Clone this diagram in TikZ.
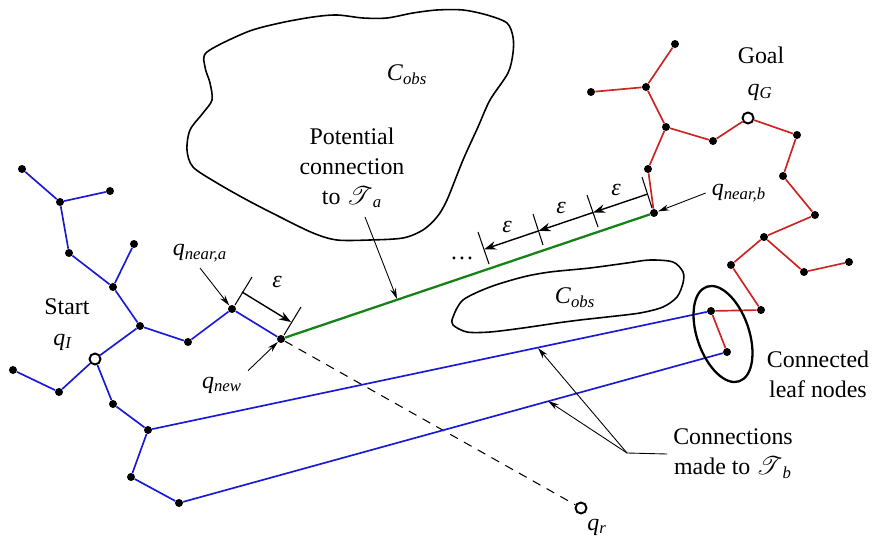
\documentclass[tikz,border=0pt]{standalone}
\usepackage{fontspec}
\setmainfont{Liberation Serif}
\usepackage{mathrsfs}
\usetikzlibrary{arrows.meta}

\definecolor{treeblue}{RGB}{25,25,215}
\definecolor{treered}{RGB}{205,35,35}
\definecolor{conngreen}{RGB}{20,130,20}

\newcommand{\qsub}[1]{\textit{q}\textsubscript{\textit{#1}}}
\newcommand{\eps}{\textit{ε}}
\newcommand{\cobs}{\textit{C}\textsubscript{\textit{obs}}}

\tikzset{
  tnode/.style={circle,fill=black,inner sep=0pt,minimum size=1.6mm},
  endpt/.style={circle,draw=black,fill=white,line width=1.1pt,inner sep=0pt,minimum size=2.2mm},
  treea/.style={treeblue,line width=0.95pt},
  treeb/.style={treered,line width=0.95pt},
  obst/.style={black,line width=0.9pt},
  tick/.style={black,line width=0.6pt},
  epsarrow/.style={black,line width=0.8pt,-{Stealth[length=2.4mm,width=1.7mm]}},
  pointer/.style={black,line width=0.5pt,-{Stealth[length=2.2mm,width=1.2mm]}}
}

\begin{document}
\begin{tikzpicture}[x=0.02cm,y=-0.02cm,font=\fontsize{13.6}{17}\selectfont]
  \useasboundingbox (0,0) rectangle (872,540);

  % Obstacles
  \draw[obst] plot[smooth cycle,tension=0.5] coordinates {
    (207,52) (247,32) (280,23) (313,17) (337,15) (363,18) (387,18) (413,13)
    (437,10) (463,10) (487,15) (507,23) (513,37) (513,53) (508,73) (490,100)
    (478,127) (463,160) (447,200) (437,217) (423,230) (403,238) (370,240)
    (337,240) (313,233) (280,217) (247,200) (217,183) (193,167) (187,150)
    (190,130) (203,113) (212,100) (210,83) (205,67)};
  \draw[obst] plot[smooth cycle,tension=0.5] coordinates {
    (453,317) (463,300) (490,287) (523,277) (550,272) (590,268) (627,263)
    (650,260) (673,262) (683,272) (683,283) (677,297) (663,307) (640,313)
    (607,317) (580,320) (557,323) (523,328) (490,332) (467,332) (453,325)};
  \node (cobsa) at (407,75) {\cobs};
  \node (cobsb) at (575,298) {\cobs};

  % Tree a (start)
  \node[tnode] (a1) at (22,169) {};
  \node[tnode] (a2) at (60,202) {};
  \node[tnode] (a3) at (110,191) {};
  \node[tnode] (a4) at (69,253) {};
  \node[tnode] (a5) at (134,244) {};
  \node[tnode] (a6) at (113,287) {};
  \node[tnode] (a7) at (140,326) {};
  \node[tnode] (a8) at (188,342) {};
  \node[tnode] (qna) at (232,309) {};
  \node[tnode] (qnew) at (281,339) {};
  \node[endpt] (qI) at (95,359) {};
  \node[tnode] (a10) at (13,370) {};
  \node[tnode] (a11) at (59,392) {};
  \node[tnode] (a12) at (113,404) {};
  \node[tnode] (a13) at (148,430) {};
  \node[tnode] (a14) at (131,477) {};
  \node[tnode] (a15) at (179,503) {};
  \draw[treea] (a1) -- (a2) -- (a3);
  \draw[treea] (a2) -- (a4) -- (a6) -- (a7) -- (a8) -- (qna) -- (qnew);
  \draw[treea] (a5) -- (a6);
  \draw[treea] (a7) -- (qI) -- (a11) -- (a10);
  \draw[treea] (qI) -- (a12) -- (a13) -- (a14) -- (a15);

  % Tree b (goal)
  \node[tnode] (b1) at (675,44) {};
  \node[tnode] (b2) at (591,92) {};
  \node[tnode] (b3) at (646,87) {};
  \node[tnode] (b4) at (666,127) {};
  \node[tnode] (b5) at (713,141) {};
  \node[endpt] (qG) at (748,118) {};
  \node[tnode] (b6) at (797,135) {};
  \node[tnode] (b7) at (783,176) {};
  \node[tnode] (b8) at (815,215) {};
  \node[tnode] (b9) at (764,237) {};
  \node[tnode] (b10) at (804,272) {};
  \node[tnode] (b11) at (849,262) {};
  \node[tnode] (b12) at (731,265) {};
  \node[tnode] (b13) at (761,310) {};
  \node[tnode] (lf1) at (711,311) {};
  \node[tnode] (lf2) at (727,352) {};
  \node[tnode] (b14) at (648,169) {};
  \node[tnode] (qnb) at (654,213) {};
  \draw[treeb] (b1) -- (b3) -- (b2);
  \draw[treeb] (b3) -- (b4) -- (b5) -- (qG) -- (b6) -- (b7) -- (b8) -- (b9) -- (b10) -- (b11);
  \draw[treeb] (b9) -- (b12) -- (b13) -- (lf1) -- (lf2);
  \draw[treeb] (b4) -- (b14) -- (qnb);

  % Random sample and extension
  \node[endpt] (qr) at (581,508) {};
  \draw[black,line width=0.6pt,dash pattern=on 5pt off 4pt] (qnew) -- (qr);
  \draw[conngreen,line width=1.3pt] (qnew) -- (qnb);

  % Connections to tree b
  \draw[treea] (a13) -- (lf1);
  \draw[treea] (a15) -- (lf2);
  \draw[black,line width=1.3pt,rotate around={19:(723,334)}] (723,334) ellipse [x radius=26, y radius=50];

  % Epsilon steps
  \draw[tick] (235,305) -- (252,277);
  \draw[tick] (284,335) -- (301,307);
  \draw[epsarrow] (242,292) -- (291,322);
  \node (epsa) at (277,282) {\eps};
  \draw[tick] (652,208) -- (642,177);
  \draw[tick] (598,227) -- (587,195);
  \draw[tick] (543,245) -- (533,214);
  \draw[tick] (489,264) -- (478,232);
  \draw[epsarrow] (647.6,194.1) -- (593.1,212.5);
  \draw[epsarrow] (593.1,212.5) -- (538.6,230.9);
  \draw[epsarrow] (538.6,230.9) -- (484.2,249.3);
  \node (epsb1) at (616,190) {\eps};
  \node (epsb2) at (561,208) {\eps};
  \node (epsb3) at (507,227) {\eps};
  \node (dots) at (462,258) {\ldots};

  % Labels
  \node (startlbl) at (67,307) {Start};
  \node (qIlbl) at (63,342) {\qsub{I}};
  \node (goallbl) at (761,55) {Goal};
  \node (qGlbl) at (760,92) {\qsub{G}};
  \node (qrlbl) at (597,527) {\qsub{r}};
  \node (qnalbl) at (200,253) {\qsub{near,a}};
  \node (qnewlbl) at (222,385) {\qsub{new}};
  \node (qnblbl) at (739,193) {\qsub{near,b}};
  \draw[pointer] (qnalbl.south) -- (qna);
  \draw[pointer] (qnewlbl.north east) -- (qnew);
  \draw[pointer] (qnblbl.west) -- (qnb);

  \node[align=center] (potlbl) at (352,168) {Potential\\connection\\to $\mathscr{T}$\textsubscript{\textit{a}}};
  \coordinate (potstart) at (365,217);
  \coordinate (potend) at (397,299);
  \draw[pointer] (potstart) -- (potend);

  \node[align=center] (leaflbl) at (818,374) {Connected\\leaf nodes};

  \node[align=center] (connlbl) at (733,454) {Connections\\made to $\mathscr{T}$\textsubscript{\textit{b}}};
  \coordinate (connjoin) at (627,453);
  \coordinate (connend1) at (538,348);
  \coordinate (connend2) at (548,401);
  \draw[black,line width=0.5pt] (connlbl.west) -- (connjoin);
  \draw[pointer] (connjoin) -- (connend1);
  \draw[pointer] (connjoin) -- (connend2);
\end{tikzpicture}
\end{document}
